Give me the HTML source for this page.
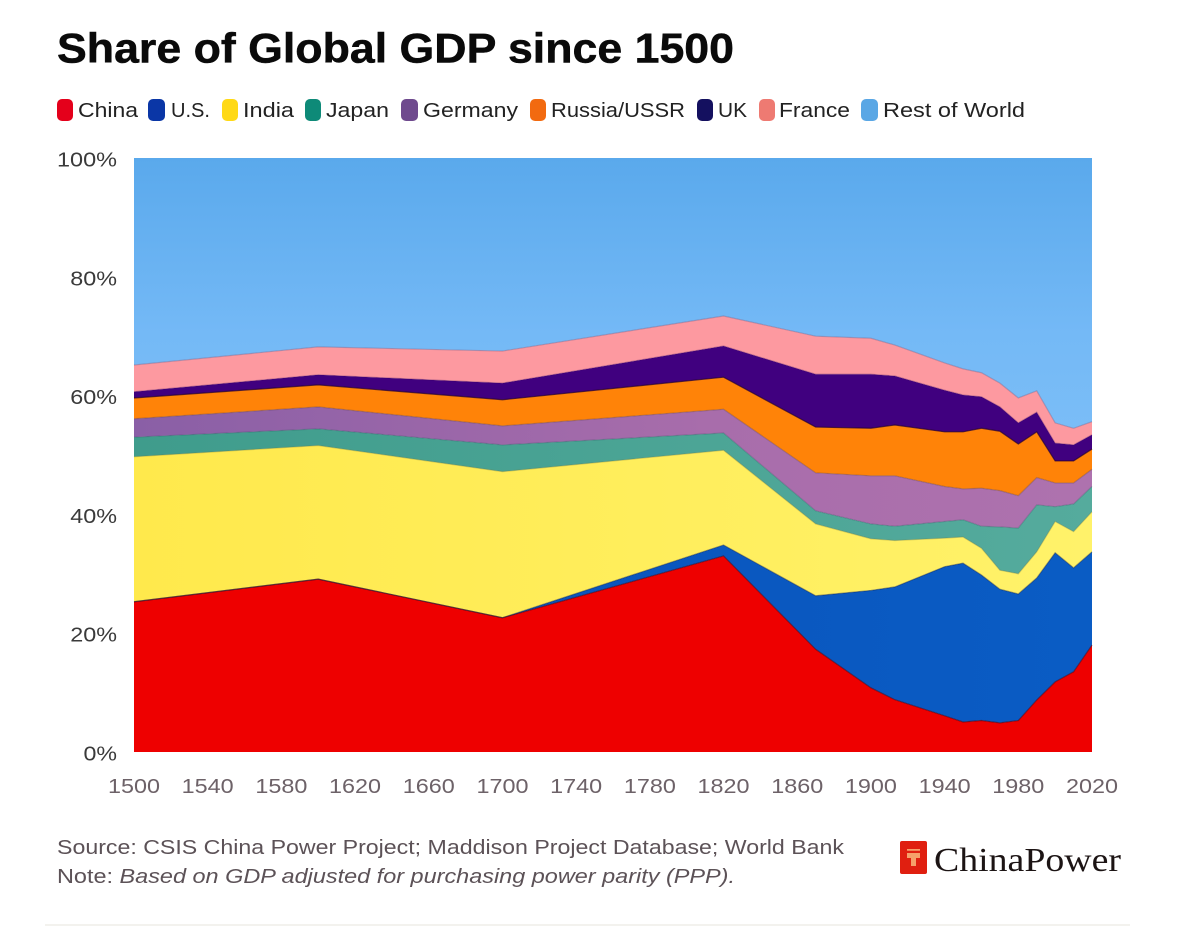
<!DOCTYPE html>
<html>
<head>
<meta charset="utf-8">
<title>Share of Global GDP since 1500</title>
<style>
html,body{margin:0;padding:0;background:#fff;width:1181px;height:949px;overflow:hidden}
svg{display:block;font-family:"Liberation Sans",sans-serif}
</style>
</head>
<body>
<svg id="chart" width="1181" height="949" viewBox="0 0 1181 949" xmlns="http://www.w3.org/2000/svg">
<defs>
<linearGradient id="g-rest" x1="0" y1="0" x2="0" y2="1"><stop offset="0" stop-color="#5aa9ec"/><stop offset="0.65" stop-color="#74b9f6"/><stop offset="1" stop-color="#7abdf7"/></linearGradient>
<linearGradient id="g-japan" x1="0" y1="0" x2="1" y2="0"><stop offset="0" stop-color="#3f9c8c"/><stop offset="1" stop-color="#55ab9d"/></linearGradient>
<linearGradient id="g-germany" x1="0" y1="0" x2="1" y2="0"><stop offset="0" stop-color="#8a5fa6"/><stop offset="0.6" stop-color="#a86dab"/><stop offset="1" stop-color="#ae72ae"/></linearGradient>
<linearGradient id="g-india" x1="0" y1="0" x2="1" y2="0"><stop offset="0" stop-color="#ffe94c"/><stop offset="1" stop-color="#fff26a"/></linearGradient>
<linearGradient id="g-us" x1="0" y1="0" x2="1" y2="0"><stop offset="0" stop-color="#0a50b8"/><stop offset="1" stop-color="#0a5cc4"/></linearGradient>
</defs>
<rect x="0" y="0" width="1181" height="949" fill="#ffffff"/>
<text x="57" y="62.5" font-size="42" font-weight="700" fill="#0a0a0a" stroke="#0a0a0a" stroke-width="0.5" textLength="677" lengthAdjust="spacingAndGlyphs">Share of Global GDP since 1500</text>

<g font-size="20" fill="#222">
  <g><rect x="57" y="99" width="16" height="22" rx="5" fill="#e4001b"/><text x="78" y="117" textLength="60" lengthAdjust="spacingAndGlyphs">China</text></g>
  <g><rect x="148" y="99" width="17" height="22" rx="5" fill="#0a36a6"/><text x="171" y="117" textLength="39" lengthAdjust="spacingAndGlyphs">U.S.</text></g>
  <g><rect x="222" y="99" width="16" height="22" rx="5" fill="#ffd915"/><text x="243" y="117" textLength="51" lengthAdjust="spacingAndGlyphs">India</text></g>
  <g><rect x="305" y="99" width="16" height="22" rx="5" fill="#0e8a78"/><text x="326" y="117" textLength="63" lengthAdjust="spacingAndGlyphs">Japan</text></g>
  <g><rect x="401" y="99" width="17" height="22" rx="5" fill="#6f4a8e"/><text x="423" y="117" textLength="95" lengthAdjust="spacingAndGlyphs">Germany</text></g>
  <g><rect x="530" y="99" width="16" height="22" rx="5" fill="#f26a10"/><text x="551" y="117" textLength="134" lengthAdjust="spacingAndGlyphs">Russia/USSR</text></g>
  <g><rect x="697" y="99" width="16" height="22" rx="5" fill="#14105f"/><text x="718" y="117" textLength="29" lengthAdjust="spacingAndGlyphs">UK</text></g>
  <g><rect x="759" y="99" width="16" height="22" rx="5" fill="#ee7a72"/><text x="779" y="117" textLength="71" lengthAdjust="spacingAndGlyphs">France</text></g>
  <g><rect x="861" y="99" width="17" height="22" rx="5" fill="#5aa7e5"/><text x="883" y="117" textLength="142" lengthAdjust="spacingAndGlyphs">Rest of World</text></g>
</g>

<g id="plot"></g>
<g id="yaxis"></g>
<g id="xaxis"></g>

<text x="57" y="854" font-size="20" fill="#5c5257" textLength="787" lengthAdjust="spacingAndGlyphs">Source: CSIS China Power Project; Maddison Project Database; World Bank</text>
<text x="57" y="883" font-size="20" fill="#5c5257" textLength="678" lengthAdjust="spacingAndGlyphs">Note: <tspan font-style="italic">Based on GDP adjusted for purchasing power parity (PPP).</tspan></text>

<g>
  <rect x="900" y="841" width="27" height="33" rx="2" fill="#e01f10"/>
  <path d="M907 849h13v1.8h-13zM907 853h13v5h-4v8h-5v-8h-4z" fill="#f6a06a"/>
  <text x="934" y="871" font-family="'Liberation Serif',serif" font-size="34" fill="#1c1414" textLength="187" lengthAdjust="spacingAndGlyphs">ChinaPower</text>
</g>

<line x1="45" y1="925" x2="1130" y2="925" stroke="#f3f2ee" stroke-width="2"/>
</svg>

<script>
const years = [1500,1600,1700,1820,1870,1900,1913,1940,1950,1960,1970,1980,1990,2000,2010,2020];
const china   = [25.3,29.1,22.6,33.0,17.3,10.8,8.8,6.1,5.05,5.3,4.9,5.3,8.75,11.8,13.5,18.0];
const us      = [0,0,0,1.85,9.0,16.4,19.0,25.1,26.75,24.5,22.5,21.3,20.55,21.75,17.5,15.7];
const india   = [24.4,22.5,24.6,15.95,12.1,8.7,7.8,4.8,4.4,4.5,3.2,3.4,4.4,5.25,6.1,6.75];
const japan   = [3.3,2.8,4.5,2.9,2.2,2.5,2.4,2.8,2.9,3.7,7.3,7.7,7.9,2.5,4.65,4.25];
const germany = [3.1,3.7,3.2,4.0,6.4,8.1,8.5,5.9,5.2,6.4,6.1,5.45,4.6,4.0,3.55,2.9];
const russia  = [3.5,3.7,4.4,5.4,7.7,8.0,8.55,9.2,9.6,10.1,10.0,8.7,7.7,3.7,3.7,3.4];
const uk      = [1.05,1.7,2.8,5.25,8.9,9.1,8.25,7.0,6.2,5.3,4.1,3.55,3.3,3.0,2.7,2.4];
const france  = [4.5,4.7,5.4,5.05,6.4,6.05,5.2,4.6,4.4,4.05,4.0,4.2,3.6,3.4,2.8,2.2];
const rest    = [34.85,31.8,32.5,26.6,30.0,30.35,31.5,34.5,35.5,36.15,37.9,40.4,39.2,44.6,45.5,44.4];
const xTicks = [1500,1540,1580,1620,1660,1700,1740,1780,1820,1860,1900,1940,1980,2020];
const yTicks = [0,20,40,60,80,100];

const NS = 'http://www.w3.org/2000/svg';
const xScale = function (yr) { return 134 + (yr - 1500) * (1092 - 134) / 520; };
const yScale = function (v) { return 752 - v * (752 - 158) / 100; };

const stack = [
  { key: 'china', values: china, fill: '#ee0000', edge: 'rgba(70,0,20,0.55)' },
  { key: 'us', values: us, fill: 'url(#g-us)', edge: 'rgba(0,20,70,0.4)' },
  { key: 'india', values: india, fill: 'url(#g-india)', edge: 'rgba(120,120,40,0.3)' },
  { key: 'japan', values: japan, fill: 'url(#g-japan)', edge: 'rgba(40,80,90,0.3)' },
  { key: 'germany', values: germany, fill: 'url(#g-germany)', edge: 'rgba(90,60,80,0.35)' },
  { key: 'russia', values: russia, fill: '#ff8308', edge: 'rgba(40,0,40,0.7)' },
  { key: 'uk', values: uk, fill: '#40007f', edge: 'rgba(60,0,90,0.3)' },
  { key: 'france', values: france, fill: '#fd99a0', edge: 'rgba(120,90,130,0.4)' },
  { key: 'rest', values: rest, fill: 'url(#g-rest)', edge: 'none' }
];

const plot = document.getElementById('plot');
let base = years.map(function () { return 0; });
stack.forEach(function (s) {
  const top = base.map(function (b, i) { return b + s.values[i]; });
  let d = '';
  years.forEach(function (yr, i) {
    d += (i ? 'L' : 'M') + xScale(yr).toFixed(2) + ' ' + yScale(top[i]).toFixed(2);
  });
  const topLine = d;
  for (let i = years.length - 1; i >= 0; i--) {
    d += 'L' + xScale(years[i]).toFixed(2) + ' ' + yScale(base[i]).toFixed(2);
  }
  d += 'Z';
  const area = document.createElementNS(NS, 'path');
  area.setAttribute('d', d);
  area.setAttribute('fill', s.fill);
  
  
  plot.appendChild(area);
  s.topLine = topLine;
  base = top;
});
stack.forEach(function (s) {
  if (s.edge === 'none') return;
  const line = document.createElementNS(NS, 'path');
  line.setAttribute('d', s.topLine);
  line.setAttribute('fill', 'none');
  line.setAttribute('stroke', s.edge);
  line.setAttribute('stroke-width', '1.2');
  
  
  plot.appendChild(line);
});

const yaxis = document.getElementById('yaxis');
yTicks.forEach(function (t) {
  const label = t + '%';
  const el = document.createElementNS(NS, 'text');
  el.setAttribute('x', 117);
  el.setAttribute('y', yScale(t) + 8.5);
  el.setAttribute('text-anchor', 'end');
  el.setAttribute('font-size', '20');
  el.setAttribute('fill', '#3a3a3a');
  el.setAttribute('textLength', 7 + 13.25 * label.length);
  el.setAttribute('lengthAdjust', 'spacingAndGlyphs');
  
  
  el.textContent = label;
  yaxis.appendChild(el);
});

const xaxis = document.getElementById('xaxis');
xTicks.forEach(function (t) {
  const el = document.createElementNS(NS, 'text');
  el.setAttribute('x', xScale(t));
  el.setAttribute('y', 793);
  el.setAttribute('text-anchor', 'middle');
  el.setAttribute('font-size', '20');
  el.setAttribute('fill', '#6d6268');
  el.setAttribute('textLength', '52');
  el.setAttribute('lengthAdjust', 'spacingAndGlyphs');
  
  
  el.textContent = t;
  xaxis.appendChild(el);
});
</script>
</body>
</html>
